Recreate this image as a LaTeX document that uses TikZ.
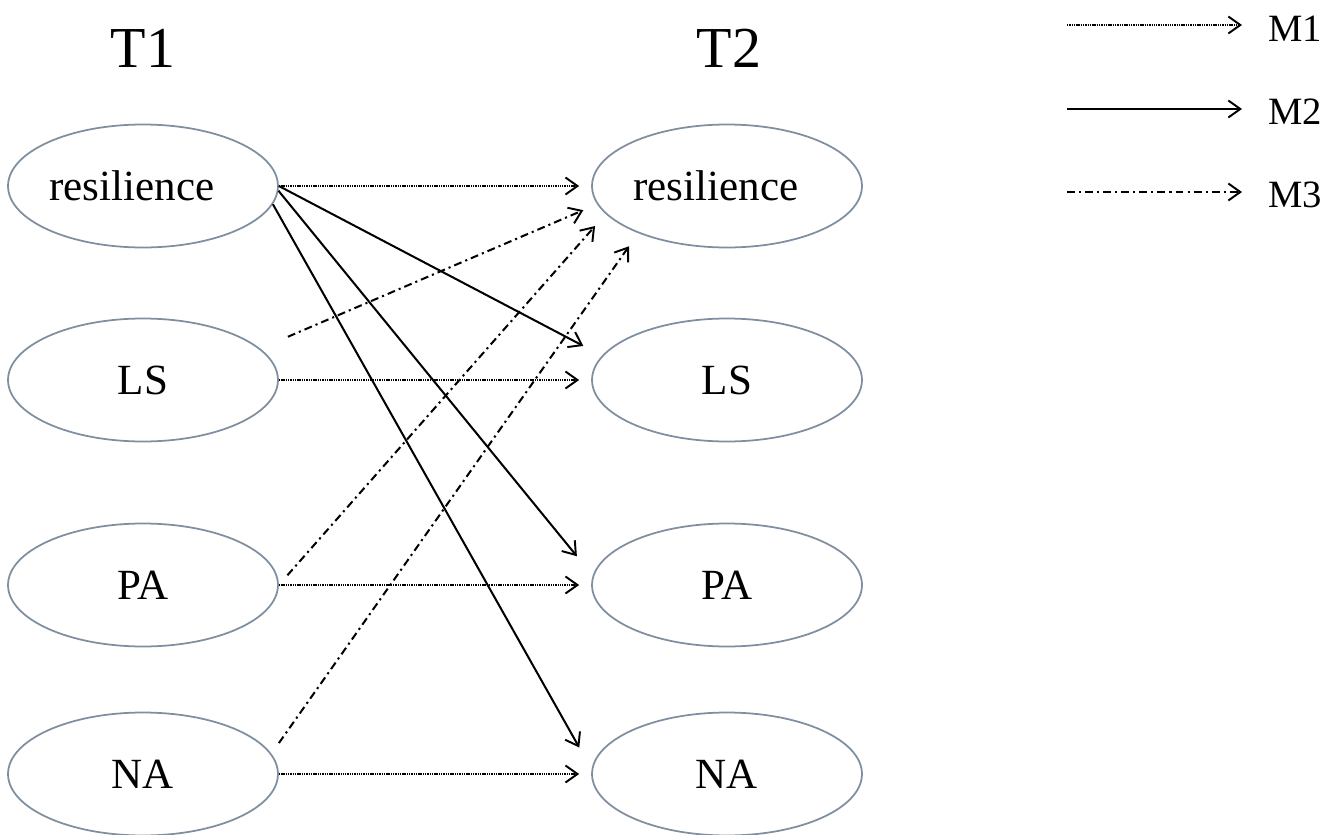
\documentclass[tikz,border=0pt]{standalone}
\usepackage{fontspec}
\setmainfont{Liberation Serif}
\usetikzlibrary{shapes.geometric,arrows.meta}
\definecolor{ellc}{HTML}{7F8FA0}
\begin{document}
\begin{tikzpicture}[x=0.02cm,y=-0.02cm,
  var/.style={ellipse,draw=ellc,line width=1pt,minimum width=5.4cm,minimum height=2.46cm,inner sep=0pt,font=\fontsize{24.5}{28}\selectfont},
  title/.style={font=\fontsize{33}{38}\selectfont,inner sep=0pt},
  leg/.style={font=\fontsize{22}{26}\selectfont,inner sep=0pt},
  arr/.style={-{Straight Barb[length=0.24cm,width=0.34cm,line width=1.1pt]},line width=1.15pt},
  mone/.style={arr,dash pattern=on 0.8pt off 0.5pt},
  mtwo/.style={arr},
  mthree/.style={arr,dash pattern=on 4.5pt off 2.3pt on 1.2pt off 2.3pt}]
\useasboundingbox (0,0) rectangle (1336,835);
% titles
\node[title] (t1) at (143,48) {T1};
\node[title] (t2) at (729,48) {T2};
% T1 variables
\node[var] (l1) at (143,186) {resilience\hspace*{0.45cm}};
\node[var] (l2) at (143,380) {LS};
\node[var] (l3) at (143,585) {PA};
\node[var] (l4) at (143,774) {NA};
% T2 variables
\node[var] (r1) at (727,186) {resilience\hspace*{0.45cm}};
\node[var] (r2) at (727,380) {LS};
\node[var] (r3) at (727,585) {PA};
\node[var] (r4) at (727,774) {NA};
% M1: stability paths
\draw[mone,shorten >=0.24cm] (l1.east) -- (r1.west);
\draw[mone,shorten >=0.24cm] (l2.east) -- (r2.west);
\draw[mone,shorten >=0.24cm] (l3.east) -- (r3.west);
\draw[mone,shorten >=0.24cm] (l4.east) -- (r4.west);
% M2: resilience -> outcomes
\draw[mtwo,shorten >=0.42cm] (l1.east) -- (r2.169.6);
\draw[mtwo,shorten >=0.5cm] (l1.-2) -- (r3.176.6);
\draw[mtwo,shorten >=0.5cm] (l1.-8.6) -- (r4.178);
% M3: outcomes -> resilience
\draw[mthree,shorten <=0.6cm,shorten >=0.3cm] (l2.15) -- (r1.188.4);
\draw[mthree,shorten <=0.26cm,shorten >=0.32cm] (l3.0.4) -- (r1.193.7);
\draw[mthree,shorten <=0.26cm,shorten >=0.32cm] (l4.9.9) -- (r1.208.1);
% legend
\coordinate (a1) at (1067,25);  \coordinate (b1) at (1242,25);
\coordinate (a2) at (1067,109); \coordinate (b2) at (1242,109);
\coordinate (a3) at (1067,192); \coordinate (b3) at (1242,192);
\draw[mone] (a1) -- (b1);
\draw[mtwo] (a2) -- (b2);
\draw[mthree] (a3) -- (b3);
\node[leg,anchor=west] (m1) at (1268,29) {M1};
\node[leg,anchor=west] (m2) at (1268,112) {M2};
\node[leg,anchor=west] (m3) at (1268,195) {M3};
\end{tikzpicture}
\end{document}
